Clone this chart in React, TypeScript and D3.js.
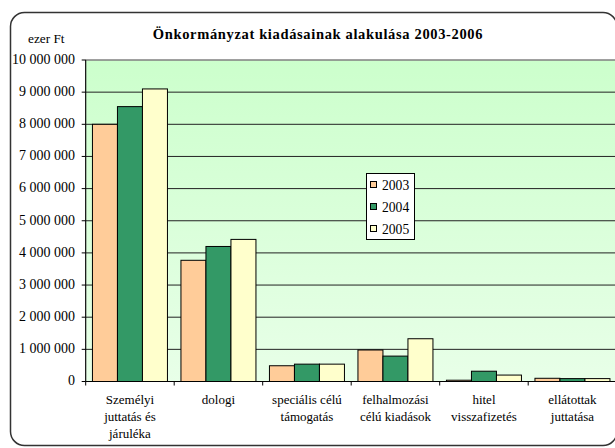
import React from "react";
import * as d3 from "d3";

const categories: string[][] = [
  ["Személyi", "juttatás és", "járuléka"],
  ["dologi"],
  ["speciális célú", "támogatás"],
  ["felhalmozási", "célú kiadások"],
  ["hitel", "visszafizetés"],
  ["ellátottak", "juttatása"],
];
const seriesNames = ["2003", "2004", "2005"];
const v2003 = [8000000, 3770000, 490000, 980000, 40000, 100000];
const v2004 = [8550000, 4200000, 540000, 790000, 320000, 90000];
const v2005 = [9100000, 4420000, 540000, 1330000, 200000, 90000];
const yTicks = [0, 1000000, 2000000, 3000000, 4000000, 5000000, 6000000, 7000000, 8000000, 9000000, 10000000];
const colors = ["#FFCC99", "#339966", "#FFFFCC"];

const W = 615, H = 448;
const left = 85.7, top = 60, bottom = 381.5;
const catW = 88.5;
const right = left + catW * categories.length;
const serif = "'Liberation Serif', 'Times New Roman', Times, serif";
const ts: React.CSSProperties = { fontFamily: serif };

export default function App() {
  const series = [v2003, v2004, v2005];
  const x = d3.scaleBand<number>().domain(categories.map((_, i) => i)).range([left, right]).paddingInner(0).paddingOuter(0);
  const y = d3.scaleLinear().domain([0, 10000000]).range([bottom, top]);
  const inner = d3.scaleBand<number>().domain([0, 1, 2]).range([0, catW]).paddingInner(0).paddingOuter(0.27);
  const fmt = (d: number) => d3.format(",")(d).replace(/,/g, " ");
  return (
    <svg width={W} height={H} style={{ position: "absolute", left: 0, top: 0, fontFamily: serif }}>
      <defs>
        <linearGradient id="bg" x1="0" y1="0" x2="0" y2="1">
          <stop offset="0" stopColor="#CCFFCC" />
          <stop offset="1" stopColor="#E8FFE8" />
        </linearGradient>
      </defs>
      <rect x={0} y={0} width={W} height={H} fill="#fff" />
      <rect x={10.5} y={12.5} width={606.5} height={433} rx={14} ry={14} fill="#fff" stroke="#333" strokeWidth={1.5} />
      <rect x={left} y={top} width={right - left} height={bottom - top} fill="url(#bg)" stroke="#808080" strokeWidth={1} />
      {yTicks.slice(1).map((t) => (
        <line key={t} x1={left} x2={right} y1={y(t)} y2={y(t)} stroke={t === 10000000 ? "#808080" : "#222"} strokeWidth={1} />
      ))}
      {series.map((vals, si) =>
        vals.map((v, ci) => (
          <rect
            key={`${si}-${ci}`}
            x={x(ci)! + inner(si)!}
            y={y(v)}
            width={inner.bandwidth()}
            height={bottom - y(v)}
            fill={colors[si]}
            stroke="#000"
            strokeWidth={1}
          />
        ))
      )}
      <line x1={left} x2={left} y1={top} y2={bottom} stroke="#000" />
      <line x1={left} x2={right} y1={bottom} y2={bottom} stroke="#000" />
      {yTicks.map((t) => (
        <g key={t}>
          <line x1={left - 4} x2={left} y1={y(t)} y2={y(t)} stroke="#000" />
          <text x={75} y={y(t) + 3.8} textAnchor="end" fontSize={14} style={ts}>
            {fmt(t)}
          </text>
        </g>
      ))}
      {categories.map((c, i) => (
        <g key={i}>
          <line x1={x(i)!} x2={x(i)!} y1={bottom} y2={bottom + 4} stroke="#000" />
          {c.map((ln, li) => (
            <text key={li} x={x(i)! + catW / 2} y={403.5 + li * 17} textAnchor="middle" fontSize={13} style={ts}>
              {ln}
            </text>
          ))}
        </g>
      ))}
      <text x={318} y={39} textAnchor="middle" fontSize={14.5} fontWeight="bold" letterSpacing={0.65} style={ts}>
        Önkormányzat kiadásainak alakulása 2003-2006
      </text>
      <text x={28} y={43} fontSize={13.3} style={ts}>
        ezer Ft
      </text>
      <g>
        <rect x={366.5} y={173.5} width={48} height={66} fill="#fff" stroke="#000" strokeWidth={1} />
        {seriesNames.map((s, i) => (
          <g key={s}>
            <rect x={370.5} y={181.5 + i * 22} width={6} height={6} fill={colors[i]} stroke="#000" />
            <text x={382} y={189.8 + i * 22} fontSize={13.6} style={ts}>
              {s}
            </text>
          </g>
        ))}
      </g>
    </svg>
  );
}
